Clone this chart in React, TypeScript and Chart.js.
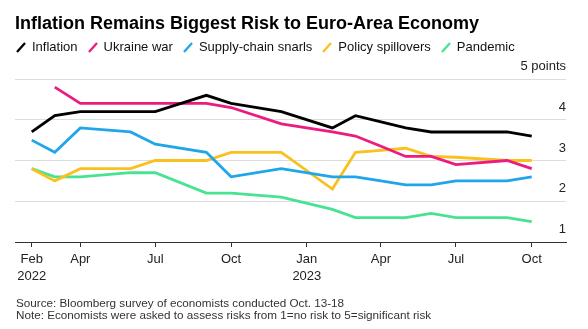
import React, { useEffect, useRef } from 'react';
import { Chart, registerables } from 'chart.js';

Chart.register(...registerables);

const FONT = '"Liberation Sans", Arial, sans-serif';

const day = (y: number, m: number) => Date.UTC(y, m - 1, 1) / 86400000;

// Survey months [year, month]
const SURVEY_MONTHS: [number, number][] = [
  [2022, 2], [2022, 3], [2022, 4], [2022, 6], [2022, 7], [2022, 9], [2022, 10], [2022, 12],
  [2023, 2], [2023, 3], [2023, 4], [2023, 5], [2023, 6], [2023, 7], [2023, 9], [2023, 10],
];

const INFLATION = [3.7, 4.1, 4.2, 4.2, 4.2, 4.6, 4.4, 4.2, 3.8, 4.1, 3.95, 3.8, 3.7, 3.7, 3.7, 3.6];
const UKRAINE_WAR = [null, 4.8, 4.4, 4.4, 4.4, 4.4, 4.3, 3.9, 3.7, 3.6, 3.35, 3.1, 3.1, 2.9, 3.0, 2.8];
const SUPPLY_CHAIN = [3.5, 3.2, 3.8, 3.7, 3.4, 3.2, 2.6, 2.8, 2.6, 2.6, 2.5, 2.4, 2.4, 2.5, 2.5, 2.6];
const POLICY_SPILLOVERS = [2.8, 2.5, 2.8, 2.8, 3.0, 3.0, 3.2, 3.2, 2.3, 3.2, 3.25, 3.3, 3.1, 3.08, 3.0, 3.0];
const PANDEMIC = [2.8, 2.6, 2.6, 2.7, 2.7, 2.2, 2.2, 2.1, 1.8, 1.6, 1.6, 1.6, 1.7, 1.6, 1.6, 1.5];

const SERIES_NAMES = ['Inflation', 'Ukraine war', 'Supply-chain snarls', 'Policy spillovers', 'Pandemic'];
const SERIES_COLORS = ['#000000', '#ec1b80', '#1fa6ea', '#f8c11d', '#48e392'];
const SERIES_VALUES = [INFLATION, UKRAINE_WAR, SUPPLY_CHAIN, POLICY_SPILLOVERS, PANDEMIC];

const X_TICK_MONTHS: [number, number][] = [
  [2022, 2], [2022, 4], [2022, 7], [2022, 10], [2023, 1], [2023, 4], [2023, 7], [2023, 10],
];
const X_TICK_LABELS: (string | string[])[] = [
  ['Feb', '2022'], 'Apr', 'Jul', 'Oct', ['Jan', '2023'], 'Apr', 'Jul', 'Oct',
];
const Y_TICKS = [1, 2, 3, 4, 5];
const Y_TICK_LABELS = ['1', '2', '3', '4', '5 points'];

const TITLE = 'Inflation Remains Biggest Risk to Euro-Area Economy';
const SOURCE = 'Source: Bloomberg survey of economists conducted Oct. 13-18';
const NOTE = 'Note: Economists were asked to assess risks from 1=no risk to 5=significant risk';

export default function App() {
  const ref = useRef<HTMLCanvasElement>(null);

  useEffect(() => {
    const xs = SURVEY_MONTHS.map(([y, m]) => day(y, m));
    const chart = new Chart(ref.current as HTMLCanvasElement, {
      type: 'line',
      data: {
        datasets: SERIES_NAMES.map((name, si) => ({
          label: name,
          data: xs.map((x, i) => ({ x, y: SERIES_VALUES[si][i] as any })),
          borderColor: SERIES_COLORS[si],
          backgroundColor: SERIES_COLORS[si],
          borderWidth: 2.8,
          pointRadius: 0,
          pointHoverRadius: 0,
          tension: 0,
          fill: false,
          spanGaps: false,
        })),
      },
      options: {
        responsive: false,
        animation: false,
        devicePixelRatio: 1,
        layout: { padding: { left: 15, right: 22, top: 79, bottom: 0 } },
        plugins: {
          legend: { display: false },
          tooltip: { enabled: false },
          title: { display: false },
        },
        scales: {
          x: {
            type: 'linear',
            min: day(2022, 2) - 20.3,
            max: day(2023, 10) + 41.6,
            afterBuildTicks: (s: any) => {
              s.ticks = X_TICK_MONTHS.map(([y, m]) => ({ value: day(y, m) }));
            },
            afterFit: (s: any) => {
              s.height = 87;
            },
            grid: {
              drawOnChartArea: false,
              drawTicks: true,
              tickLength: 5,
              color: '#333',
              tickColor: '#333',
            },
            border: { display: true, color: '#333', width: 1 },
            ticks: {
              autoSkip: false,
              maxRotation: 0,
              minRotation: 0,
              padding: 4,
              color: '#222',
              font: { family: FONT, size: 13, lineHeight: 1.3 },
              callback: (_v: any, i: number) => X_TICK_LABELS[i],
            },
          },
          y: {
            type: 'linear',
            position: 'right',
            min: 1,
            max: 5,
            afterBuildTicks: (s: any) => {
              s.ticks = Y_TICKS.map((v) => ({ value: v }));
            },
            afterFit: (s: any) => {
              s.width = 0;
            },
            grid: { drawTicks: false, color: '#dcdcdc', lineWidth: 1 },
            border: { display: false },
            ticks: {
              mirror: true,
              padding: 0,
              labelOffset: -12.5,
              color: '#222',
              font: { family: FONT, size: 13 },
              callback: (_v: any, i: number) => Y_TICK_LABELS[i],
            },
          },
        },
      } as any,
    });
    return () => chart.destroy();
  }, []);

  return (
    <div
      style={{
        position: 'absolute',
        left: 0,
        top: 0,
        width: 588,
        height: 329,
        background: '#fff',
        fontFamily: FONT,
        overflow: 'hidden',
      }}
    >
      <canvas
        ref={ref}
        width={588}
        height={329}
        style={{ position: 'absolute', left: 0, top: 0, width: 588, height: 329 }}
      />
      <div
        style={{
          position: 'absolute',
          left: 15,
          top: 14,
          fontSize: 18,
          lineHeight: '18px',
          fontWeight: 700,
          color: '#000',
          whiteSpace: 'nowrap',
        }}
      >
        {TITLE}
      </div>
      <div
        style={{
          position: 'absolute',
          left: 16,
          top: 40,
          display: 'flex',
          alignItems: 'center',
          fontSize: 13,
          lineHeight: '13px',
          color: '#111',
          whiteSpace: 'nowrap',
        }}
      >
        {SERIES_NAMES.map((name, i) => (
          <div key={name} style={{ display: 'flex', alignItems: 'center', marginRight: 10 }}>
            <svg width={10} height={12} style={{ marginRight: 6, display: 'block' }}>
              <line x1={1} y1={11} x2={9} y2={2} stroke={SERIES_COLORS[i]} strokeWidth={2.3} />
            </svg>
            <span>{name}</span>
          </div>
        ))}
      </div>
      <div
        style={{
          position: 'absolute',
          left: 16,
          top: 297,
          fontSize: 11.7,
          lineHeight: '12px',
          color: '#333',
          whiteSpace: 'nowrap',
        }}
      >
        <div>{SOURCE}</div>
        <div>{NOTE}</div>
      </div>
    </div>
  );
}
